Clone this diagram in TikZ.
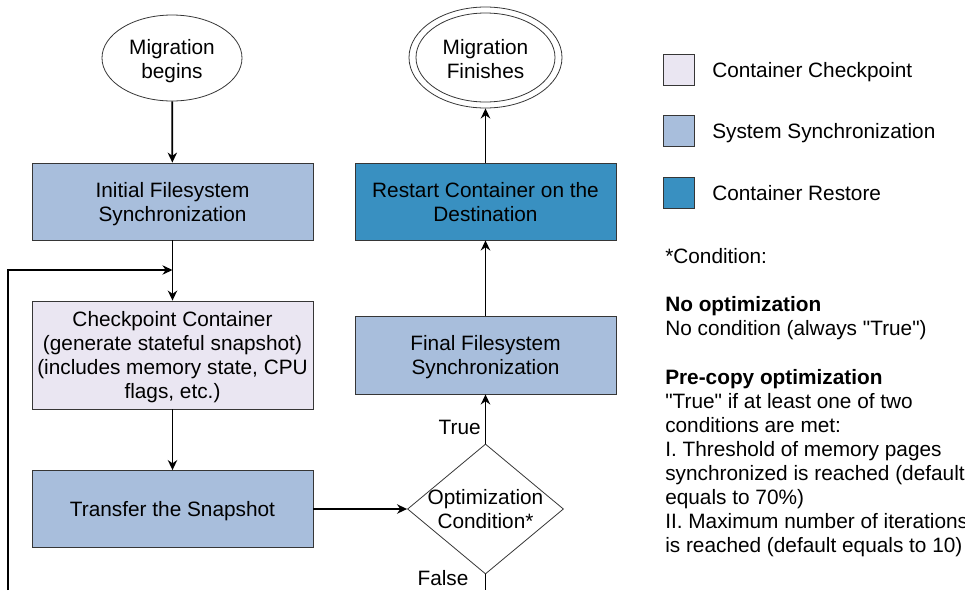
\documentclass[tikz,border=0pt]{standalone}
\usepackage{fontspec}
\setmainfont{Liberation Sans}
\usetikzlibrary{shapes.geometric,arrows.meta}
\definecolor{ckpt}{RGB}{234,230,242}
\definecolor{sync}{RGB}{168,190,220}
\definecolor{rest}{RGB}{57,144,193}
\definecolor{bord}{RGB}{54,54,54}
\begin{document}
\begin{tikzpicture}[x=0.75pt,y=-0.75pt,
  txt/.style={font=\fontsize{15.6pt}{18pt}\selectfont},
  shp/.style={draw=bord, line width=0.6pt, inner sep=0pt},
  box/.style={shp},
  ttxt/.style={txt, align=center, inner sep=0pt},
  conn/.style={line width=1.3pt, -{Stealth[length=7.5pt,width=7pt,inset=2.4pt]}},
  line/.style={txt, anchor=base west, inner sep=0pt},
  lgbox/.style={shp, minimum size=23.25pt}]
\useasboundingbox (0,0) rectangle (965,590);
\clip (0,0) rectangle (965,590);
% flow shapes
\node[ellipse, shp, minimum width=105pt, minimum height=64.5pt] (start) at (172,58) {};
\node[box, fill=sync, minimum width=210.75pt, minimum height=57.75pt] (init) at (172.5,201.5) {};
\node[box, fill=ckpt, minimum width=210.75pt, minimum height=81pt] (ckp) at (172.5,355) {};
\node[box, fill=sync, minimum width=210.75pt, minimum height=57.75pt] (xfer) at (172.5,509) {};
\node[diamond, shp, minimum width=117pt, minimum height=97.5pt] (dec) at (485.5,509) {};
\node[box, fill=sync, minimum width=195.75pt, minimum height=58.5pt] (final) at (485.5,355) {};
\node[box, fill=rest, minimum width=195.75pt, minimum height=57.75pt] (restart) at (485.5,201.5) {};
\node[ellipse, shp, minimum width=114.75pt, minimum height=75.75pt] (fin) at (485.5,57.5) {};
\node[ellipse, shp, minimum width=104.25pt, minimum height=66.75pt] (fini) at (fin.center) {};
% texts of the shapes
\node[ttxt, yshift=-2.25pt] (startt) at (start.center) {Migration\\begins};
\node[ttxt, yshift=-2.25pt] (initt) at (init.center) {Initial Filesystem\\Synchronization};
\node[ttxt, yshift=-1.6pt] (ckpt) at (ckp.center) {Checkpoint Container\\(generate stateful snapshot)\\(includes memory state, CPU\\flags, etc.)};
\node[ttxt, yshift=-1.6pt] (xfert) at (xfer.center) {Transfer the Snapshot};
\node[ttxt] (dect) at (dec.center) {Optimization\\Condition*};
\node[ttxt, yshift=-1.9pt] (finalt) at (final.center) {Final Filesystem\\Synchronization};
\node[ttxt, yshift=-0.75pt] (restartt) at (restart.center) {Restart Container on the\\Destination};
\node[ttxt, yshift=-1.1pt] (fint) at (fin.center) {Migration\\Finishes};
% connectors
\coordinate (lb) at (8,590);
\coordinate (j) at (172.5,270);
\coordinate (fb) at (485.5,590);
\draw[conn] (start) -- (init);
\draw[conn] (init) -- (ckp);
\draw[conn] (lb) |- (j);
\draw[conn] (ckp) -- (xfer);
\draw[conn] (xfer) -- (dec);
\draw[conn] (dec) -- (final);
\draw[conn] (final) -- (restart);
\draw[conn] (restart) -- (fin);
\draw[line width=1.3pt] (dec.south) -- (fb);
\node[txt, anchor=base east, inner sep=0pt] (ltrue) at (481,434.4) {True};
\node[txt, anchor=base, inner sep=0pt] (lfalse) at (443,585.4) {False};
% legend
\node[lgbox, fill=ckpt] (lg1) at (679,70) {};
\node[lgbox, fill=sync] (lg2) at (679,131) {};
\node[lgbox, fill=rest] (lg3) at (679,193) {};
\node[line] (lt1) at (712,77.4) {Container Checkpoint};
\node[line] (lt2) at (712,138.4) {System Synchronization};
\node[line] (lt3) at (712,200.4) {Container Restore};
% condition text
\node[line] (c1) at (665,263.4) {*Condition:};
\node[line] (c2) at (665,311.4) {\bfseries No optimization};
\node[line] (c3) at (665,335.4) {No condition (always \textquotedbl True\textquotedbl)};
\node[line] (c4) at (665,384.4) {\bfseries Pre-copy optimization};
\node[line] (c5) at (665,408.4) {\textquotedbl True\textquotedbl\ if at least one of two};
\node[line] (c6) at (665,432.4) {conditions are met:};
\node[line] (c7) at (665,456.4) {I. Threshold of memory pages};
\node[line] (c8) at (665,480.4) {synchronized is reached (default};
\node[line] (c9) at (665,504.4) {equals to 70\%)};
\node[line] (c10) at (665,528.4) {II. Maximum number of iterations};
\node[line] (c11) at (665,552.4) {is reached (default equals to 10)};
\end{tikzpicture}
\end{document}
